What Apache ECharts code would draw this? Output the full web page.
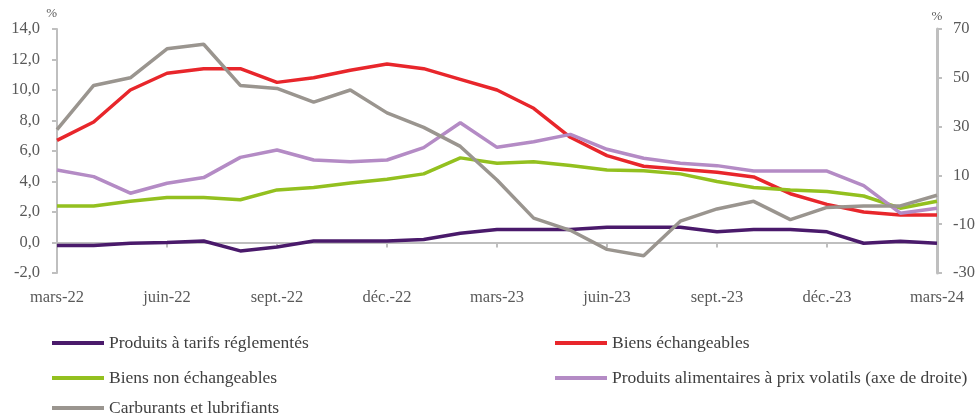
<!DOCTYPE html>
<html>
<head>
<meta charset="utf-8">
<script src="https://cdn.jsdelivr.net/npm/echarts@6/dist/echarts.min.js"></script>
<style>
  html, body { margin: 0; padding: 0; background: #fff; }
  #chart { width: 978px; height: 417px; }
</style>
</head>
<body>
<div id="chart"></div>
<script>
// mois de mars-22 à mars-24
const months = ['mars-22', 'avr.-22', 'mai-22', 'juin-22', 'juil.-22', 'août-22', 'sept.-22', 'oct.-22', 'nov.-22', 'déc.-22',
  'janv.-23', 'févr.-23', 'mars-23', 'avr.-23', 'mai-23', 'juin-23', 'juil.-23', 'août-23', 'sept.-23', 'oct.-23', 'nov.-23', 'déc.-23',
  'janv.-24', 'févr.-24', 'mars-24']

const tarifsReglementes = [-0.2, -0.2, -0.05, 0.0, 0.1, -0.55, -0.3, 0.1, 0.1, 0.1, 0.2, 0.6, 0.85, 0.85, 0.85, 1.0, 1.0, 1.0, 0.7, 0.85, 0.85, 0.7, -0.05, 0.08, -0.05]
const biensEchangeables = [6.7, 7.9, 10.0, 11.1, 11.4, 11.4, 10.5, 10.8, 11.3, 11.7, 11.4, 10.7, 10.0, 8.8, 6.9, 5.7, 5.0, 4.8, 4.6, 4.3, 3.2, 2.5, 2.0, 1.8, 1.8]
const biensNonEchangeables = [2.4, 2.4, 2.7, 2.95, 2.95, 2.8, 3.45, 3.6, 3.9, 4.15, 4.5, 5.55, 5.2, 5.3, 5.05, 4.75, 4.7, 4.5, 4.0, 3.6, 3.45, 3.35, 3.05, 2.25, 2.7]
const alimentairesVolatils = [12.2, 9.5, 2.7, 6.8, 9.1, 17.4, 20.4, 16.3, 15.6, 16.3, 21.4, 31.6, 21.5, 23.8, 26.8, 20.7, 17.0, 15.0, 14.0, 11.8, 11.8, 11.8, 5.8, -5.5, -3.5]
const carburants = [7.4, 10.3, 10.8, 12.7, 13.0, 10.3, 10.1, 9.2, 10.0, 8.5, 7.55, 6.3, 4.1, 1.6, 0.8, -0.45, -0.87, 1.4, 2.2, 2.7, 1.5, 2.3, 2.4, 2.4, 3.1]

const leftTicks = { min: -2, max: 14, interval: 2 }
const rightTicks = { min: -30, max: 70, interval: 20 }

const font = 'Liberation Serif'
const textColor = '#595959'
const axisGrey = '#bfbfbf'

const chart = echarts.init(document.getElementById('chart'))

function serie (name, data, color, yAxisIndex) {
  return {
    name: name,
    type: 'line',
    data: data,
    yAxisIndex: yAxisIndex,
    symbol: 'none',
    lineStyle: { color: color, width: 3.5 },
    itemStyle: { color: color },
    animation: false
  }
}

// une légende par élément pour placer les deux colonnes
function legende (name, left, centerY) {
  return {
    data: [name],
    left: left,
    top: centerY - 8,
    padding: 0,
    icon: 'rect',
    itemWidth: 52,
    itemHeight: 4,
    textStyle: { fontFamily: font, fontSize: 17.5, color: '#404040' }
  }
}

chart.setOption({
  textStyle: { fontFamily: font },
  grid: { left: 57, right: 39, top: 29, height: 244 },
  legend: [
    legende('Produits à tarifs réglementés', 52, 342),
    legende('Biens non échangeables', 52, 377),
    legende('Carburants et lubrifiants', 52, 407),
    legende('Biens échangeables', 555, 342),
    legende('Produits alimentaires à prix volatils (axe de droite)', 555, 377)
  ],
  xAxis: [
    {
      type: 'category',
      data: months,
      boundaryGap: false,
      position: 'bottom',
      axisLine: { show: false },
      axisTick: { show: false },
      axisLabel: { interval: 2, color: textColor, fontSize: 16.5, fontFamily: font, margin: 16 }
    },
    {
      type: 'category',
      data: months,
      boundaryGap: false,
      position: 'bottom',
      axisLine: { onZero: true, onZeroAxisIndex: 0, lineStyle: { color: axisGrey, width: 2 } },
      axisTick: { interval: 2, length: 5, lineStyle: { color: axisGrey, width: 2 } },
      axisLabel: { show: false }
    }
  ],
  yAxis: [
    {
      type: 'value',
      min: leftTicks.min,
      max: leftTicks.max,
      interval: leftTicks.interval,
      name: '%',
      nameGap: 9,
      nameTextStyle: { color: textColor, fontSize: 13, fontFamily: font, align: 'right' },
      axisLine: { show: true, lineStyle: { color: axisGrey, width: 2 } },
      axisTick: { show: true, length: 5, lineStyle: { color: axisGrey, width: 2 } },
      axisLabel: {
        color: textColor, fontSize: 16.5, fontFamily: font, margin: 17,
        formatter: v => v.toFixed(1).replace('.', ',')
      },
      splitLine: { show: false }
    },
    {
      type: 'value',
      min: rightTicks.min,
      max: rightTicks.max,
      interval: rightTicks.interval,
      position: 'right',
      name: '%',
      nameGap: 6,
      nameTextStyle: { color: textColor, fontSize: 13, fontFamily: font, align: 'center' },
      axisLine: { show: true, lineStyle: { color: axisGrey, width: 3 } },
      axisTick: { show: true, length: 5, lineStyle: { color: axisGrey, width: 2 } },
      axisLabel: { color: textColor, fontSize: 16.5, fontFamily: font, margin: 16 },
      splitLine: { show: false }
    }
  ],
  series: [
    serie('Produits à tarifs réglementés', tarifsReglementes, '#4a1a6b', 0),
    serie('Biens échangeables', biensEchangeables, '#e8262b', 0),
    serie('Biens non échangeables', biensNonEchangeables, '#93c01f', 0),
    serie('Produits alimentaires à prix volatils (axe de droite)', alimentairesVolatils, '#b48bc5', 1),
    serie('Carburants et lubrifiants', carburants, '#9a958f', 0)
  ]
})
</script>
</body>
</html>
